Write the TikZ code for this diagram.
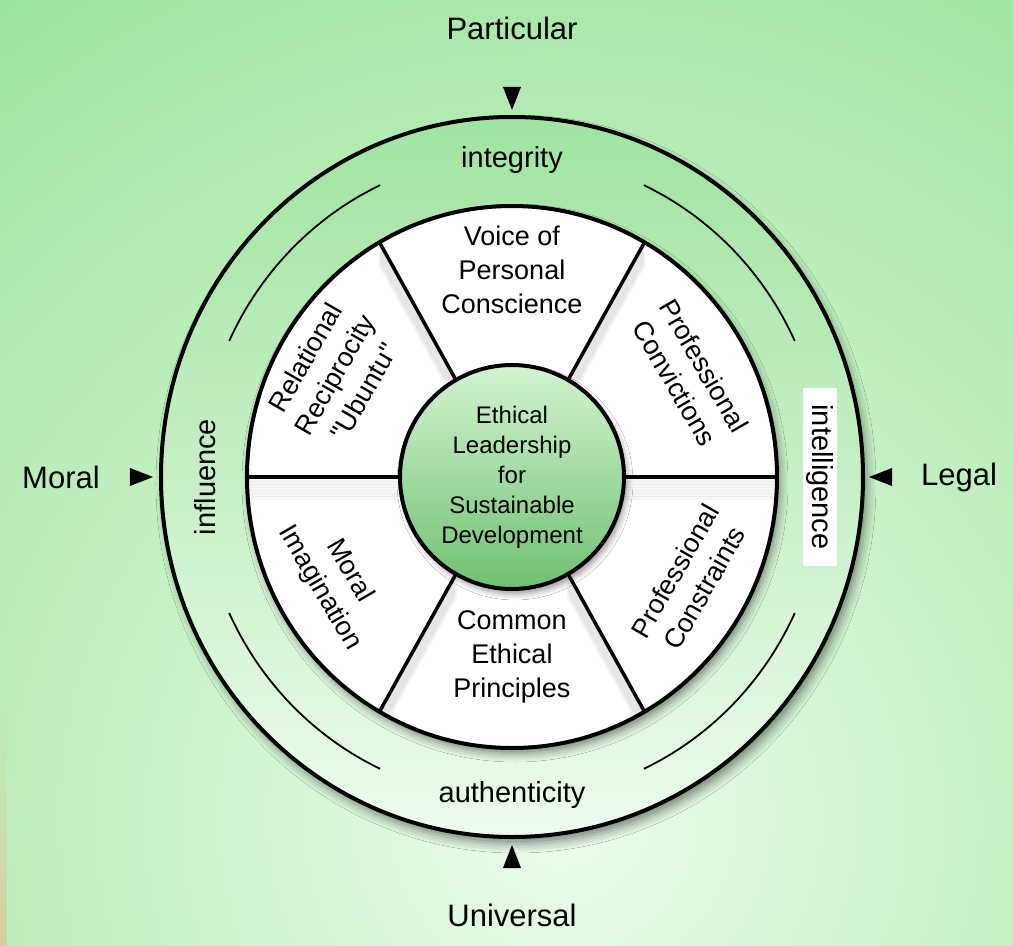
\documentclass[tikz,border=0pt]{standalone}
\usepackage{fontspec}
\setmainfont{Liberation Sans}
\usetikzlibrary{calc,fadings,shadows.blur}

\definecolor{meadow}{RGB}{146,226,146}
\definecolor{meadowpale}{RGB}{236,251,236}
\definecolor{sand}{RGB}{214,206,158}
\definecolor{ringtop}{RGB}{160,228,160}
\definecolor{ringbottom}{RGB}{238,251,238}
\definecolor{hubtop}{RGB}{210,244,210}
\definecolor{hubbottom}{RGB}{112,192,112}

\tikzset{
  pole/.style={font=\fontsize{31}{36}\selectfont},
  value/.style={font=\fontsize{29}{34}\selectfont, inner sep=3pt},
  sector/.style={font=\fontsize{27}{34}\selectfont, align=center, inner sep=0pt},
  hub/.style={circle, draw, line width=4pt, minimum size=224pt, inner sep=0pt,
    top color=hubtop, bottom color=hubbottom, align=center,
    font=\fontsize{24}{30}\selectfont,
    blur shadow={shadow xshift=3pt, shadow yshift=-5pt, shadow blur radius=6pt, shadow opacity=40}},
  spoke/.style={line width=3.5pt},
  rimline/.style={line width=4pt},
  pointer/.pic={\fill (0,0) -- (-9,23) -- (9,23) -- cycle;}
}

\begin{document}
\begin{tikzpicture}[x=1pt, y=1pt]
    \useasboundingbox (-512,-469) rectangle (501,477);

    % background
    \begin{scope}
        \clip (-512,-469) rectangle (501,477);
        \fill[meadow] (-512,-469) rectangle (501,477);
        \shade[inner color=meadowpale, outer color=meadow] (50,-340) circle (1100);
        \fill[sand, path fading=north] (-512,-469) rectangle (-505,-230);
    \end{scope}

    % outer ring
    \path[top color=ringtop, bottom color=ringbottom,
      blur shadow={shadow xshift=4pt, shadow yshift=-7pt, shadow blur radius=9pt, shadow opacity=45}]
      (0,0) ellipse [x radius=351, y radius=360];
    \draw[rimline] (0,0) ellipse [x radius=351, y radius=360];

    \foreach \a in {25,115,205,295}
        \draw[line width=1.8pt] (\a:312 and 322) arc[start angle=\a, delta angle=40, x radius=312, y radius=322];

    % wheel
    \path[fill=white,
      blur shadow={shadow xshift=3pt, shadow yshift=-6pt, shadow blur radius=8pt, shadow opacity=45}]
      (0,0) ellipse [x radius=265, y radius=271];
    \begin{scope}
        \clip (0,0) ellipse [x radius=265, y radius=271];
        \foreach \a in {0,60,...,300}
            \foreach \k in {1,...,7}
                \draw[line width=4pt, black, opacity=0.035] ($(\a:112)+(0,-3*\k)$) -- ($(\a:265 and 271)+(0,-3*\k)$);
    \end{scope}
    \draw[rimline] (0,0) ellipse [x radius=265, y radius=271];

    % hub and spokes
    \node[hub] (hub) at (0,0) {Ethical\\Leadership\\for\\Sustainable\\Development};
    \foreach \a in {0,60,...,300} {
        \coordinate (rim\a) at (\a:265 and 271);
        \draw[spoke] (hub.\a) -- (rim\a);
    }

    % sectors
    \node[sector] (voice) at (90:207) {Voice of\\Personal\\Conscience};
    \node[sector, rotate=-60] (convictions) at (30:205) {Professional\\Convictions};
    \node[sector, rotate=60] (ubuntu) at (150:205) {Relational\\Reciprocity\\\textquotedbl Ubuntu\textquotedbl};
    \node[sector, rotate=-60] (imagination) at (210:205) {Moral\\Imagination};
    \node[sector, rotate=60] (constraints) at (330:205) {Professional\\Constraints};
    \node[sector] (common) at (270:180) {Common\\Ethical\\Principles};

    % ring values
    \node[value] (integrity) at (0,317) {integrity};
    \node[value] (authenticity) at (0,-318) {authenticity};
    \node[value, rotate=90] (influence) at (-307,0) {influence};
    \node[value, rotate=-90, fill=white, inner xsep=16pt, inner ysep=3.5pt] (intelligence) at (308,0) {intelligence};

    % poles
    \node[pole] (particular) at (0,449) {Particular};
    \node[pole] (universal) at (0,-438) {Universal};
    \node[pole] (moral) at (-451,0) {Moral};
    \node[pole] (legal) at (447,0) {Legal};

    \pic at (0,367) {pointer};
    \pic[rotate=180] at (0,-368) {pointer};
    \pic[rotate=90] at (-359,0) {pointer};
    \pic[rotate=-90] at (357,0) {pointer};

\end{tikzpicture}
\end{document}
